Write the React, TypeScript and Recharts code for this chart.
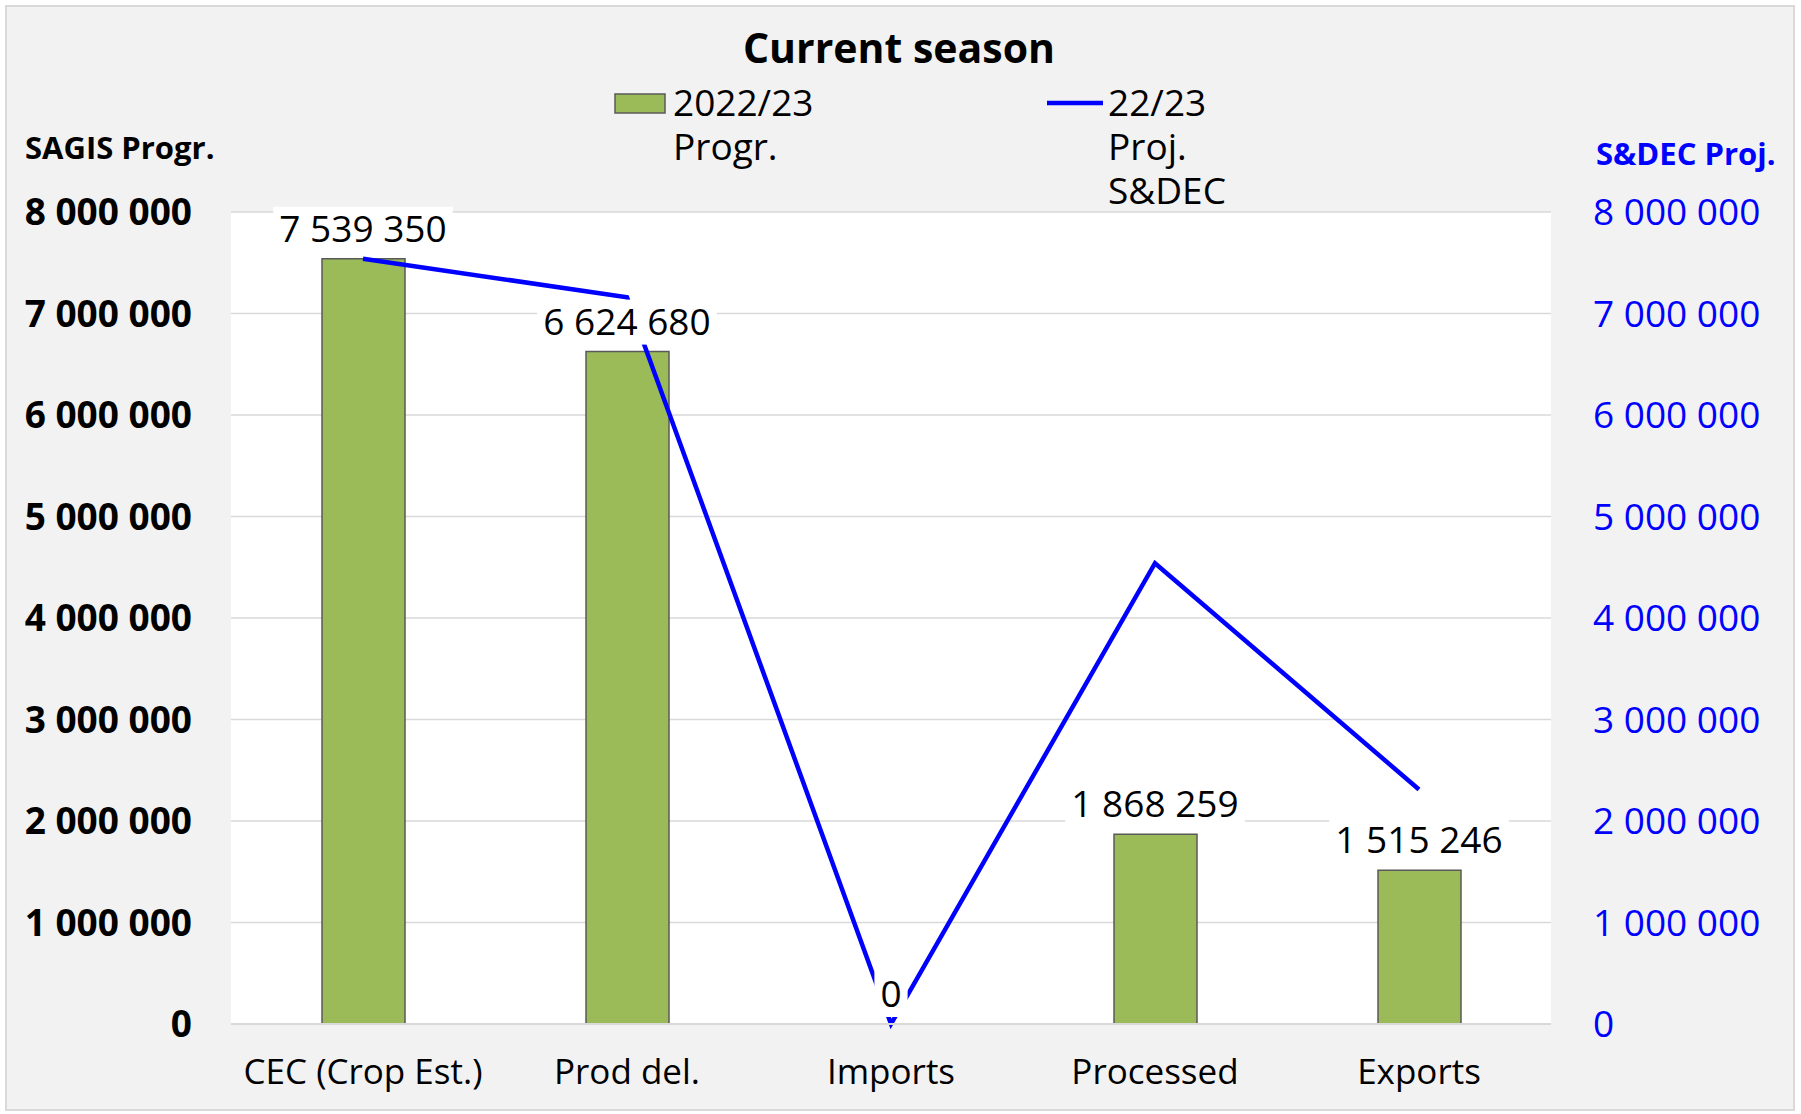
import {
  Bar,
  CartesianGrid,
  ComposedChart,
  LabelList,
  Legend,
  Line,
  XAxis,
  YAxis,
} from "recharts";

const categories = ["CEC (Crop Est.)", "Prod del.", "Imports", "Processed", "Exports"];
const progr = [7539350, 6624680, 0, 1868259, 1515246];
const projSdec = [7540000, 7160000, 0, 4540000, 2310000];
const yTicks = [0, 1000000, 2000000, 3000000, 4000000, 5000000, 6000000, 7000000, 8000000];

const data = categories.map((name, i) => ({
  name,
  progr: progr[i],
  proj: projSdec[i],
}));

const FONT = "'Open Sans', sans-serif";
const BLUE = "#0000ff";
const GREEN = "#9bbb59";

// 7 539 350 style
const fmt = (v: number) => String(v).replace(/\B(?=(\d{3})+(?!\d))/g, " ");

const ValueTag = (props: any) => {
  const x = props.x ?? props.viewBox?.x;
  const y = props.y ?? props.viewBox?.y;
  if (x == null || y == null) return null;
  const txt = fmt(Number(props.value));
  const digits = txt.replace(/ /g, "").length;
  const spaces = txt.length - digits;
  const w = digits * 21.2 + spaces * 9.6 + 12;
  return (
    <g>
      <rect x={x - w / 2} y={y - 52} width={w} height={45} fill="#ffffff" />
      <text
        x={x}
        y={y - 17}
        textAnchor="middle"
        fontFamily={FONT}
        fontSize={37}
        fill="#000"
      >
        {txt}
      </text>
    </g>
  );
};

const TopArea = () => (
  <svg width={1801} height={212} style={{ display: "block", overflow: "visible" }}>
    <text x={899} y={63} textAnchor="middle" fontFamily={FONT} fontWeight={700} fontSize={41} fill="#000">
      Current season
    </text>
    <text x={25} y={159} fontFamily={FONT} fontWeight={700} fontSize={31} fill="#000">
      SAGIS Progr.
    </text>
    <text x={1596} y={165} fontFamily={FONT} fontWeight={700} fontSize={31} fill={BLUE}>
      S&amp;DEC Proj.
    </text>
    {/* bar series */}
    <rect x={615} y={94} width={50} height={19} fill={GREEN} stroke="#595959" strokeWidth={1.5} />
    <text x={673} y={116} fontFamily={FONT} fontSize={37} fill="#000">2022/23</text>
    <text x={673} y={160} fontFamily={FONT} fontSize={37} fill="#000">Progr.</text>
    {/* line series */}
    <line x1={1047} y1={103} x2={1103} y2={103} stroke={BLUE} strokeWidth={4.5} />
    <text x={1108} y={116} fontFamily={FONT} fontSize={37} fill="#000">22/23</text>
    <text x={1108} y={160} fontFamily={FONT} fontSize={37} fill="#000">Proj.</text>
    <text x={1108} y={204} fontFamily={FONT} fontSize={37} fill="#000">S&amp;DEC</text>
  </svg>
);

export default function App() {
  return (
    <div style={{ position: "absolute", left: 0, top: 0, width: 1801, height: 1114, background: "#fff" }}>
      <div
        style={{
          position: "absolute",
          left: 5,
          top: 5,
          width: 1790,
          height: 1106,
          boxSizing: "border-box",
          border: "2px solid #d9d9d9",
          background: "#f2f2f2",
        }}
      />
      <div style={{ position: "absolute", left: 0, top: 0 }}>
        <ComposedChart
          width={1801}
          height={1114}
          data={data}
          margin={{ top: 212, right: 0, bottom: 0, left: 0 }}
        >
          <CartesianGrid yAxisId="left" vertical={false} stroke="#d9d9d9" strokeWidth={1.5} fill="#ffffff" />
          <XAxis
            dataKey="name"
            height={90}
            tickSize={0}
            tickMargin={35}
            axisLine={{ stroke: "#d9d9d9", strokeWidth: 2 }}
            tickLine={false}
            tick={{ fill: "#000", fontSize: 35, fontFamily: FONT }}
            interval={0}
          />
          <YAxis
            yAxisId="left"
            width={231}
            domain={[0, 8000000]}
            ticks={yTicks}
            tickFormatter={fmt}
            axisLine={false}
            tickLine={false}
            tickSize={0}
            tickMargin={39}
            tick={{ fill: "#000", fontSize: 37, fontWeight: 700, fontFamily: FONT }}
          />
          <YAxis
            yAxisId="right"
            orientation="right"
            width={250}
            domain={[0, 8000000]}
            ticks={yTicks}
            tickFormatter={fmt}
            axisLine={false}
            tickLine={false}
            tickSize={0}
            tickMargin={42}
            tick={{ fill: BLUE, fontSize: 37, fontFamily: FONT }}
          />
          <Legend
            layout="vertical"
            align="center"
            verticalAlign="middle"
            wrapperStyle={{ left: 0, top: 0, width: 1801, height: 212 }}
            content={() => <TopArea />}
          />
          <Bar
            yAxisId="left"
            dataKey="progr"
            name="2022/23 Progr."
            fill={GREEN}
            stroke="#595959"
            strokeWidth={1.5}
            barSize={83}
            isAnimationActive={false}
          />
          <Line
            yAxisId="right"
            dataKey="proj"
            name="22/23 Proj. S&DEC"
            type="linear"
            stroke={BLUE}
            strokeWidth={4.5}
            dot={false}
            activeDot={false}
            isAnimationActive={false}
          />
          {/* carrier for the bar value tags, drawn above the blue line */}
          <Line
            yAxisId="left"
            dataKey="progr"
            stroke="none"
            dot={false}
            activeDot={false}
            legendType="none"
            isAnimationActive={false}
          >
            <LabelList dataKey="progr" content={<ValueTag />} />
          </Line>
        </ComposedChart>
      </div>
    </div>
  );
}
